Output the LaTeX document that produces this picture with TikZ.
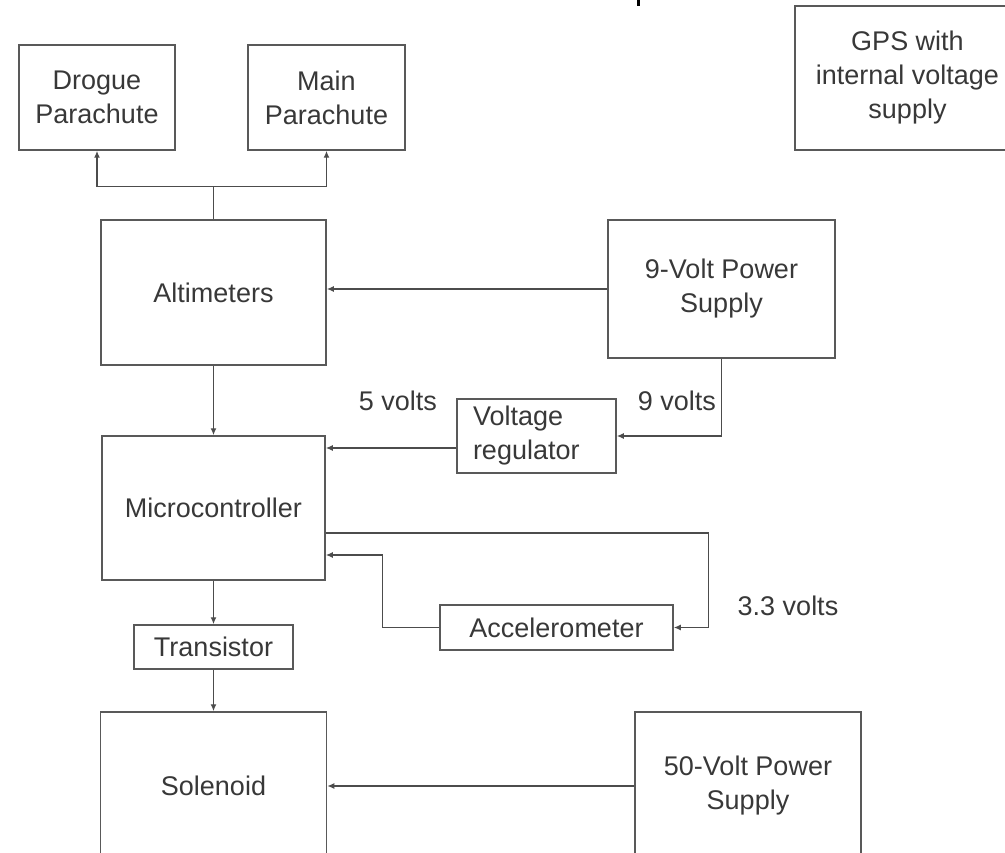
\documentclass[tikz,border=0pt]{standalone}
\usepackage{fontspec}
\setmainfont{Liberation Sans}
\usepackage{tikz}
\usetikzlibrary{positioning, arrows.meta}

\begin{document}
\begin{tikzpicture}[
        x=1pt, y=-1pt,
        block/.style={
          rectangle,
          draw=black!65,
          line width=1.5pt,
          text=black!78,
          align=center,
          inner sep=0pt,
          font=\fontsize{27}{34}\selectfont
        },
        lbl/.style={
          text=black!78,
          inner sep=0pt,
          font=\fontsize{27}{34}\selectfont
        },
        arrow/.style={
          -{Latex[length=7pt,width=6pt]},
          draw=black!70,
          line width=1.4pt
        }
      ]
      \useasboundingbox (0,0) rectangle (1005,853);
      \clip (0,0) rectangle (1005,853);

      % Nodes
      \node [block, minimum width=156pt, minimum height=105pt] (drogue) at (97,97.5) {Drogue\\Parachute};
      \node [block, minimum width=157pt, minimum height=105pt] (mainp) at (326.5,97.5) {Main\\Parachute};
      \node [block, minimum width=225pt, minimum height=144pt] (gps) at (907.5,78) {GPS with\\internal voltage\\supply};
      \node [block, minimum width=225pt, minimum height=145pt] (alt) at (213.5,292.5) {Altimeters};
      \node [block, minimum width=227pt, minimum height=138pt] (nine) at (721.5,289) {9-Volt Power\\Supply};
      \node [block, minimum width=223pt, minimum height=144pt] (micro) at (213.5,508) {Microcontroller};
      \node [block, align=left, text width=127pt, minimum width=159pt, minimum height=74pt] (vreg) at (536.5,436) {Voltage\\regulator};
      \node [block, minimum width=233pt, minimum height=45pt] (accel) at (556.5,627.5) {Accelerometer};
      \node [block, minimum width=159pt, minimum height=44pt] (trans) at (213.5,647) {Transistor};
      \node [block, minimum width=226pt, minimum height=148pt] (sol) at (213.5,786) {Solenoid};
      \node [block, minimum width=226pt, minimum height=148pt] (fifty) at (748,786) {50-Volt Power\\Supply};

      % Labels
      \node [lbl] (v5) at (398,401) {5 volts};
      \node [lbl] (v9) at (677,401) {9 volts};
      \node [lbl] (v33) at (788,606) {3.3 volts};

      % Junction points
      \coordinate (split) at ([yshift=33pt]alt.north);
      \coordinate (vin) at ([yshift=-12pt]vreg.west);
      \coordinate (mout) at ([yshift=-25pt]micro.east);
      \coordinate (min) at ([yshift=-47pt]micro.east);

      % Arrows
      \draw [draw=black!70, line width=1.4pt] (alt.north) -- (split);
      \draw [arrow] (split) -| (drogue.south);
      \draw [arrow] (split) -| (mainp.south);
      \draw [arrow] (nine.west) -- (nine.west -| alt.east);
      \draw [arrow] (alt.south) -- (micro.north);
      \draw [arrow] (nine.south) |- (vreg.east);
      \draw [arrow] (vin) -- (vin -| micro.east);
      \draw [arrow] (mout) -| ([xshift=35pt]accel.east) -- (accel.east);
      \draw [arrow] (accel.west) -- ++(-57,0) |- (min);
      \draw [arrow] (micro.south) -- (trans.north);
      \draw [arrow] (trans.south) -- (sol.north);
      \draw [arrow] (fifty.west) -- (sol.east);

      % edge of a cut-off mark
      \draw [line width=3pt] (638,0) -- (638,6);

    \end{tikzpicture}
\end{document}
